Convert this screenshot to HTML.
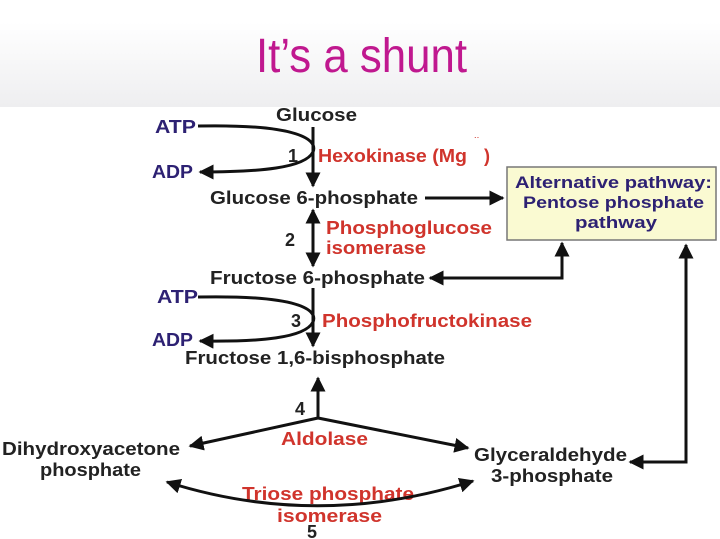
<!DOCTYPE html>
<html><head><meta charset="utf-8"><style>
html,body{margin:0;padding:0;background:#fff;width:720px;height:539px;overflow:hidden}
svg{display:block}
text{font-family:"Liberation Sans",Arial,sans-serif;font-weight:bold}
</style></head><body>
<svg width="720" height="539" viewBox="0 0 720 539" xmlns="http://www.w3.org/2000/svg">
<defs>
<linearGradient id="bg" x1="0" y1="0" x2="0" y2="1">
<stop offset="0" stop-color="#ffffff"/><stop offset="1" stop-color="#eeeef0"/>
</linearGradient>
<marker id="ah" viewBox="0 0 10 10" refX="9" refY="5" markerWidth="5" markerHeight="5" orient="auto-start-reverse" markerUnits="strokeWidth">
<path d="M0,0 L10,5 L0,10 z" fill="#111"/></marker>
</defs>
<rect x="0" y="22" width="720" height="85" fill="url(#bg)"/>
<text x="256" y="72" font-size="48" fill="#c0188f" style="font-weight:normal" textLength="211" lengthAdjust="spacingAndGlyphs">It’s a shunt</text>

<g fill="#222" font-size="18">
<text x="276" y="121" textLength="81" lengthAdjust="spacingAndGlyphs">Glucose</text>
<text x="210" y="204" textLength="208" lengthAdjust="spacingAndGlyphs">Glucose 6-phosphate</text>
<text x="210" y="284" textLength="215" lengthAdjust="spacingAndGlyphs">Fructose 6-phosphate</text>
<text x="185" y="364" textLength="260" lengthAdjust="spacingAndGlyphs">Fructose 1,6-bisphosphate</text>
<text x="2" y="455" textLength="178" lengthAdjust="spacingAndGlyphs">Dihydroxyacetone</text>
<text x="40" y="476" textLength="101" lengthAdjust="spacingAndGlyphs">phosphate</text>
<text x="474" y="461" textLength="153" lengthAdjust="spacingAndGlyphs">Glyceraldehyde</text>
<text x="491" y="482" textLength="122" lengthAdjust="spacingAndGlyphs">3-phosphate</text>
<text x="288" y="162">1</text>
<text x="285" y="246">2</text>
<text x="291" y="327">3</text>
<text x="295" y="415">4</text>
<text x="307" y="538">5</text>
</g>
<g fill="#2d2173" font-size="18">
<text x="155" y="133" textLength="41" lengthAdjust="spacingAndGlyphs">ATP</text>
<text x="152" y="178" textLength="41" lengthAdjust="spacingAndGlyphs">ADP</text>
<text x="157" y="303" textLength="41" lengthAdjust="spacingAndGlyphs">ATP</text>
<text x="152" y="346" textLength="41" lengthAdjust="spacingAndGlyphs">ADP</text>
</g>
<g fill="#d0342c" font-size="18">
<text x="318" y="162" textLength="149" lengthAdjust="spacingAndGlyphs">Hexokinase (Mg</text>
<text x="484" y="162">)</text>
<text x="474" y="143" font-size="8">˙˙</text>
<text x="326" y="234" textLength="166" lengthAdjust="spacingAndGlyphs">Phosphoglucose</text>
<text x="326" y="254" textLength="100" lengthAdjust="spacingAndGlyphs">isomerase</text>
<text x="322" y="327" textLength="210" lengthAdjust="spacingAndGlyphs">Phosphofructokinase</text>
<text x="281" y="445" textLength="87" lengthAdjust="spacingAndGlyphs">Aldolase</text>
<text x="242" y="500" textLength="172" lengthAdjust="spacingAndGlyphs">Triose phosphate</text>
<text x="277" y="522" textLength="105" lengthAdjust="spacingAndGlyphs">isomerase</text>
</g>

<rect x="507" y="167" width="209" height="73" fill="#fafad2" stroke="#777" stroke-width="1.5"/>
<g fill="#2d2173" font-size="17">
<text x="515" y="188" textLength="197" lengthAdjust="spacingAndGlyphs">Alternative pathway:</text>
<text x="523" y="208" textLength="181" lengthAdjust="spacingAndGlyphs">Pentose phosphate</text>
<text x="575" y="228" textLength="82" lengthAdjust="spacingAndGlyphs">pathway</text>
</g>

<g stroke="#111" stroke-width="3" fill="none">
<line x1="313" y1="127" x2="313" y2="186" marker-end="url(#ah)"/>
<path d="M198,126 C300,124 318,140 313,152 C305,168 260,172 200,172" marker-end="url(#ah)"/>
<line x1="425" y1="198" x2="503" y2="198" marker-end="url(#ah)"/>
<line x1="313" y1="210" x2="313" y2="266" marker-start="url(#ah)" marker-end="url(#ah)"/>
<polyline points="562,243 562,278 430,278" marker-start="url(#ah)" marker-end="url(#ah)"/>
<line x1="313" y1="288" x2="313" y2="346" marker-end="url(#ah)"/>
<path d="M198,297 C300,295 318,310 313,322 C305,338 260,342 200,341" marker-end="url(#ah)"/>
<line x1="318" y1="418" x2="318" y2="378" marker-end="url(#ah)"/>
<line x1="318" y1="418" x2="190" y2="446" marker-end="url(#ah)"/>
<line x1="318" y1="418" x2="468" y2="448" marker-end="url(#ah)"/>
<polyline points="686,245 686,462 630,462" marker-start="url(#ah)" marker-end="url(#ah)"/>
<path d="M167,482 Q318,530 473,481" marker-start="url(#ah)" marker-end="url(#ah)"/>
</g>
</svg>
</body></html>
